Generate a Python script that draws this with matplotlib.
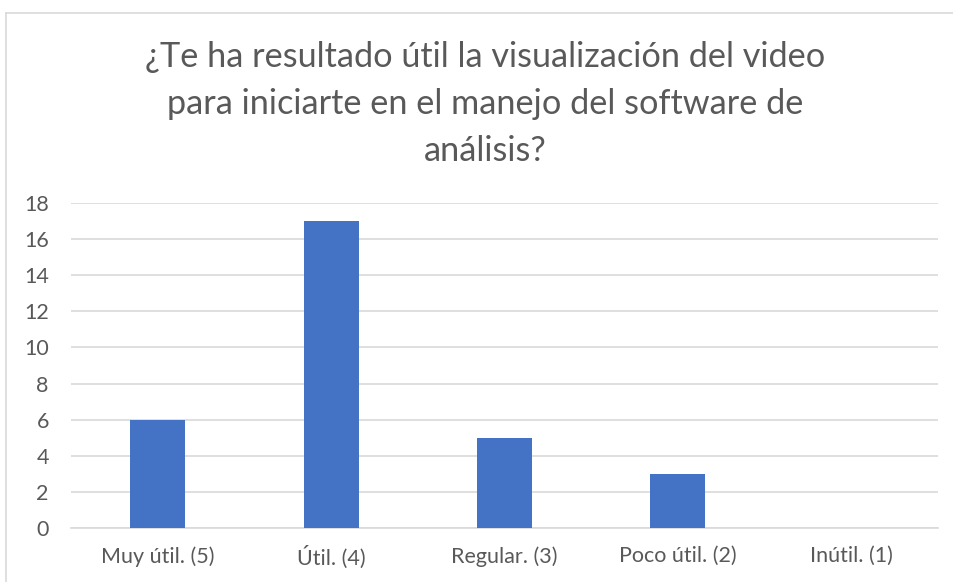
import matplotlib.pyplot as plt
import numpy as np

plt.rcParams['font.family'] = ['Lato', 'DejaVu Sans']

categories = ['Muy útil. (5)', 'Útil. (4)', 'Regular. (3)', 'Poco útil. (2)', 'Inútil. (1)']
values = [6, 17, 5, 3, 0]
title = '¿Te ha resultado útil la visualización del video\npara iniciarte en el manejo del software de\nanálisis?'

W, H = 954, 582
fig = plt.figure(figsize=(W / 100, H / 100), dpi=100)
ax = fig.add_axes([71 / W, 1 - 528 / H, (938 - 71) / W, (528 - 203) / H])

x = np.arange(len(categories))
ax.bar(x, values, width=0.317, color='#4472C4', zorder=3)

ax.set_xlim(-0.5, len(categories) - 0.5)
ax.set_ylim(0, 18)
ax.set_yticks(range(0, 19, 2))
ax.set_xticks(x)
ax.set_xticklabels(categories)
ax.tick_params(axis='both', length=0, labelsize=15.5, colors='#595959')
ax.tick_params(axis='x', pad=13)
ax.tick_params(axis='y', pad=16)
ax.grid(axis='y', color='#D9D9D9', linewidth=1.2, zorder=0)
for side in ['top', 'right', 'left']:
    ax.spines[side].set_visible(False)
ax.spines['bottom'].set_color('#D9D9D9')
ax.spines['bottom'].set_linewidth(1.2)

fig.text(485 / W, 1 - 104 / H, title, ha='center', va='center',
         fontsize=24.7, color='#595959', linespacing=1.56)

# chart border (only top and left edges show in the crop)
fig.add_artist(plt.Line2D([6 / W, 6 / W], [0, 1 - 13 / H], color='#D9D9D9', linewidth=1.2))
fig.add_artist(plt.Line2D([6 / W, 1], [1 - 13 / H, 1 - 13 / H], color='#D9D9D9', linewidth=1.2))

fig.savefig('out.png', dpi=100)
